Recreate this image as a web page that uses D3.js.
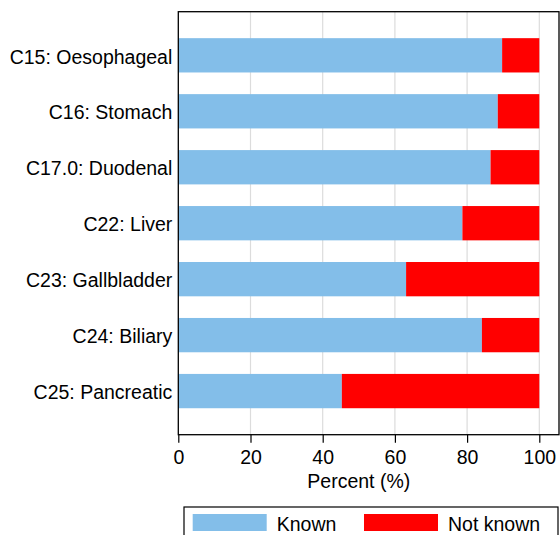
<!DOCTYPE html>
<html>
<head>
<meta charset="utf-8">
<script src="https://cdn.jsdelivr.net/npm/d3@7"></script>
<style>
html,body{margin:0;padding:0;background:#fff;}
svg{display:block;font-family:"Liberation Sans",Arial,Helvetica,sans-serif;}
</style>
</head>
<body>
<svg id="chart" width="560" height="535"></svg>
<script>
const categories = ["C15: Oesophageal","C16: Stomach","C17.0: Duodenal","C22: Liver","C23: Gallbladder","C24: Biliary","C25: Pancreatic"];
const known = [89.7, 88.5, 86.5, 78.7, 63.1, 84.1, 45.3];
const notKnown = known.map(v => 100 - v);
const seriesNames = ["Known","Not known"];
const seriesColors = ["#83bee9","#ff0000"];
const xTicks = [0,20,40,60,80,100];

const FS = 19.5;
const svg = d3.select("#chart");
const pLeft = 178.3, pRight = 559, pTop = 11.7, pBottom = 434.7;

const x = d3.scaleLinear().domain([0,100]).range([pLeft, 539.3]);
const y = d3.scaleBand().domain(categories).range([pTop, pBottom]).paddingInner(0.387).paddingOuter(0.473);

// grid
svg.append("g").selectAll("line").data(xTicks.filter(d=>d>0)).join("line")
  .attr("x1", d=>x(d)).attr("x2", d=>x(d)).attr("y1", pTop).attr("y2", pBottom)
  .attr("stroke", "#dcdcdc").attr("stroke-width", 1.2);

const stack = categories.map((c,i)=>({cat:c, k:known[i], n:notKnown[i]}));
const g = svg.append("g");
g.selectAll("rect.known").data(stack).join("rect").attr("class","known")
  .attr("x", x(0)).attr("y", d=>y(d.cat)).attr("width", d=>x(d.k)-x(0)).attr("height", y.bandwidth())
  .attr("fill", seriesColors[0]);
g.selectAll("rect.nk").data(stack).join("rect").attr("class","nk")
  .attr("x", d=>x(d.k)).attr("y", d=>y(d.cat)).attr("width", d=>x(d.k+d.n)-x(d.k)).attr("height", y.bandwidth())
  .attr("fill", seriesColors[1]);

// frame
svg.append("rect").attr("x", pLeft).attr("y", pTop).attr("width", pRight-pLeft).attr("height", pBottom-pTop)
  .attr("fill","none").attr("stroke","#000").attr("stroke-width",1.3);

// x axis
const xAxis = d3.axisBottom(x).tickValues(xTicks).tickSize(8).tickPadding(7).tickFormat(d3.format("d"));
const xa = svg.append("g").attr("transform",`translate(0,${pBottom})`).call(xAxis);
xa.select(".domain").remove();
xa.selectAll(".tick line").attr("stroke","#000").attr("stroke-width",1.2);
xa.selectAll(".tick text").attr("font-size",FS).attr("fill","#000").attr("font-family","Liberation Sans, Arial, sans-serif");

svg.append("text").attr("x", (x(0)+x(100))/2).attr("y", 488).attr("text-anchor","middle")
  .attr("font-size",FS).attr("fill","#000").text("Percent (%)");

// y labels
const ya = d3.axisLeft(y).tickSize(0).tickPadding(6);
const yg = svg.append("g").attr("transform",`translate(${pLeft},0)`).call(ya);
yg.select(".domain").remove();
yg.selectAll(".tick text").attr("font-size",FS).attr("fill","#000").attr("dy","0.42em")
  .attr("font-family","Liberation Sans, Arial, sans-serif");

// legend
const lg = svg.append("g");
lg.append("rect").attr("x",184).attr("y",507).attr("width",374).attr("height",40)
  .attr("fill","#fff").attr("stroke","#000").attr("stroke-width",1.2);
const legX = [192.7, 364];
seriesNames.forEach((s,i)=>{
  lg.append("rect").attr("x",legX[i]).attr("y",514).attr("width",74).attr("height",17).attr("fill",seriesColors[i]);
  lg.append("text").attr("x",legX[i]+84).attr("y",531).attr("font-size",FS).attr("fill","#000").text(s);
});
</script>
</body>
</html>
